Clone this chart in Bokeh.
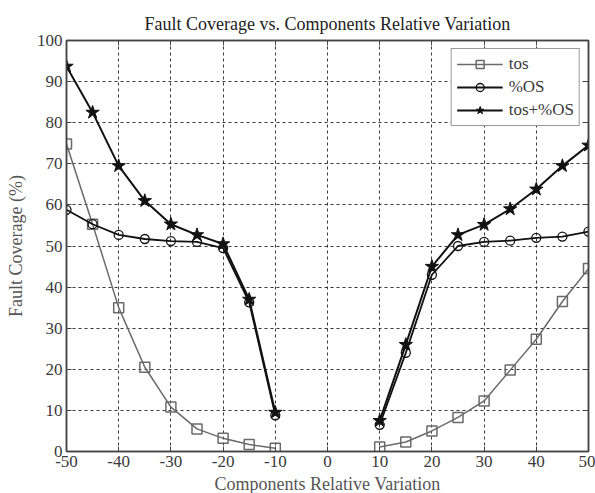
import numpy as np
from bokeh.plotting import figure
from bokeh.models import Legend, LegendItem, FixedTicker, Range1d, LinearAxis, PrintfTickFormatter
from bokeh.embed import file_html
from bokeh.resources import INLINE

# Data
x_vals = [-50, -45, -40, -35, -30, -25, -20, -15, -10, np.nan, 10, 15, 20, 25, 30, 35, 40, 45, 50]
tos = [74.8, 55.3, 35.0, 20.5, 10.8, 5.5, 3.2, 1.7, 0.8, np.nan, 1.1, 2.3, 5.0, 8.3, 12.3, 19.8, 27.3, 36.5, 44.5]
pos = [58.8, 55.3, 52.7, 51.7, 51.2, 51.0, 49.5, 36.3, 8.8, np.nan, 6.5, 24.0, 43.0, 50.0, 51.0, 51.3, 52.0, 52.3, 53.5]
both = [93.7, 82.5, 69.5, 61.0, 55.3, 52.7, 50.5, 37.0, 9.5, np.nan, 7.5, 26.0, 45.0, 52.7, 55.2, 59.0, 63.8, 69.5, 74.5]
x_ticks = [-50, -40, -30, -20, -10, 0, 10, 20, 30, 40, 50]
y_ticks = [0, 10, 20, 30, 40, 50, 60, 70, 80, 90, 100]

FONT = "Liberation Serif"
TXT = "#3a3a3a"
LBL = "#555555"

p = figure(frame_width=522, frame_height=411, output_backend="svg", toolbar_location=None,
           x_range=Range1d(-50, 50), y_range=Range1d(0, 100),
           title="Fault Coverage vs. Components Relative Variation",
           min_border_left=66, min_border_right=7, min_border_top=40, min_border_bottom=42)

p.title.align = "center"
p.title.text_font = FONT
p.title.text_font_size = "18px"
p.title.text_font_style = "normal"
p.title.text_color = "#222222"
p.title.offset = 0
p.title.vertical_align = "top"

p.outline_line_color = "#444444"
p.outline_line_width = 1.5

bottom_ax = p.xaxis[0]
left_ax = p.yaxis[0]

top_ax = LinearAxis(ticker=FixedTicker(ticks=x_ticks))
right_ax = LinearAxis(ticker=FixedTicker(ticks=y_ticks))

for ax in (bottom_ax, left_ax, top_ax, right_ax):
    ax.axis_label_text_font = FONT
    ax.axis_label_text_font_size = "18px"
    ax.axis_label_text_font_style = "normal"
    ax.axis_label_text_color = LBL
    ax.major_label_text_font = FONT
    ax.major_label_text_font_size = "17px"
    ax.major_label_text_color = TXT
    ax.major_tick_in = 5
    ax.major_tick_out = 0
    ax.minor_tick_in = 0
    ax.minor_tick_out = 0
    ax.axis_line_color = "#444444"
    ax.axis_line_width = 1.5
    ax.major_tick_line_color = "#444444"

for ax in (top_ax, right_ax):
    ax.major_label_text_font_size = "1px"
    ax.major_label_text_alpha = 0
    ax.major_label_standoff = 0
p.add_layout(top_ax, "above")
p.add_layout(right_ax, "right")

bottom_ax.axis_label = "Components Relative Variation"
left_ax.axis_label = "Fault Coverage (%)"
bottom_ax.ticker = FixedTicker(ticks=x_ticks)
left_ax.ticker = FixedTicker(ticks=y_ticks)
bottom_ax.formatter = PrintfTickFormatter(format="%d")
left_ax.formatter = PrintfTickFormatter(format="%d")
bottom_ax.major_label_standoff = 4
left_ax.major_label_standoff = 4
bottom_ax.axis_label_standoff = 4
left_ax.axis_label_standoff = 8

p.xgrid.ticker = FixedTicker(ticks=x_ticks)
p.ygrid.ticker = FixedTicker(ticks=y_ticks)
for g in (p.xgrid[0], p.ygrid[0]):
    g.grid_line_color = "#222222"
    g.grid_line_dash = "3 3"
    g.grid_line_width = 1
    g.grid_line_alpha = 0.9

GRAY = "#6a6a6a"
l1 = p.line(x_vals, tos, line_color=GRAY, line_width=1.5)
m1 = p.scatter(x_vals, tos, marker="square", size=10, line_color=GRAY, line_width=1.5, fill_color=None)
l2 = p.line(x_vals, pos, line_color="#111111", line_width=1.8)
m2 = p.scatter(x_vals, pos, marker="circle", size=9, line_color="#111111", line_width=1.3, fill_color=None)
l3 = p.line(x_vals, both, line_color="#111111", line_width=2)
m3 = p.scatter(x_vals, both, marker="star", size=14, line_color="#111111", fill_color="#111111")

legend = Legend(items=[
    LegendItem(label="tos", renderers=[l1, m1]),
    LegendItem(label="%OS", renderers=[l2, m2]),
    LegendItem(label="tos+%OS", renderers=[l3, m3]),
], location="top_right")
legend.label_text_font = FONT
legend.label_text_font_size = "17px"
legend.label_text_color = TXT
legend.border_line_color = "#333333"
legend.border_line_width = 1.2
legend.background_fill_color = "white"
legend.background_fill_alpha = 1
legend.margin = 8
legend.padding = 5
legend.spacing = 3
legend.glyph_width = 46
legend.glyph_height = 20
legend.label_standoff = 6
legend.label_height = 20
p.add_layout(legend)

open("out.html", "w").write(file_html(p, INLINE))
